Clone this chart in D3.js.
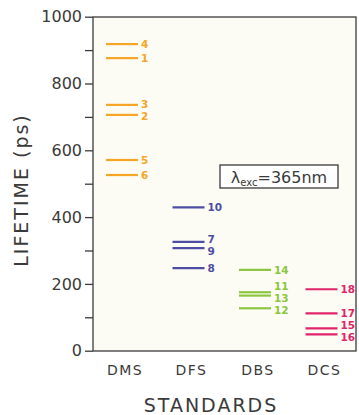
<!DOCTYPE html>
<html><head><meta charset="utf-8">
<script src="https://cdn.jsdelivr.net/npm/d3@7"></script>
<style>body{margin:0;background:#fff}svg{display:block}</style>
</head><body>
<svg id="c" width="359" height="415"></svg>
<script>
const categories = ["DMS", "DFS", "DBS", "DCS"];
const colors = ["#f6a526", "#4d4ea3", "#8cc63f", "#e0256b"];
const ids = [
  ["1","2","3","4","5","6"],
  ["7","8","9","10"],
  ["11","12","13","14"],
  ["15","16","17","18"]
];
const lifetimes = [
  [876, 706, 736, 918, 571, 526],
  [326, 247, 307, 429],
  [175, 127, 165, 242],
  [67, 49, 112, 184]
];
const yTicks = [0, 200, 400, 600, 800, 1000];
const yMinor = [100, 300, 500, 700, 900];

const svg = d3.select("#c");
const L = 93, R = 356, T = 17, B = 351;
const y = d3.scaleLinear().domain([0, 1000]).range([B - 0.3, T - 0.3]);
const x = d3.scalePoint().domain(categories).range([122, 321.5]);
const font = "DejaVu Sans, sans-serif";
const ink = "#3a3a3a";

svg.append("rect").attr("x", L).attr("y", T).attr("width", R - L).attr("height", B - T)
  .attr("fill", "#fdfcf4").attr("stroke", ink).attr("stroke-width", 1.3);

const yAxis = d3.axisLeft(y).tickValues(yTicks.concat(yMinor)).tickSize(8)
  .tickFormat(d => yTicks.includes(d) ? d : "").tickPadding(3);
const ga = svg.append("g").attr("transform", `translate(${L},0)`).call(yAxis);
ga.select(".domain").remove();
ga.selectAll("line").attr("stroke", ink).attr("stroke-width", 1.3);
ga.selectAll("text").attr("font-family", font).attr("font-size", 16).attr("fill", ink);

// category labels
svg.selectAll("text.cat").data(categories).join("text").attr("class", "cat")
  .attr("x", d => x(d) + 3).attr("y", 375).attr("text-anchor", "middle")
  .attr("font-family", font).attr("font-size", 14).attr("letter-spacing", 1.5)
  .attr("fill", ink).text(d => d);

// lines
const half = 16;
const gap = 12;
categories.forEach((c, i) => {
  const g = svg.append("g");
  const data = lifetimes[i].map((v, j) => ({v, id: ids[i][j], ly: y(lifetimes[i][j])}));
  // de-overlap labels (iterative relaxation)
  const sorted = data.slice().sort((a, b) => a.ly - b.ly);
  for (let it = 0; it < 50; it++) {
    let moved = false;
    for (let k = 1; k < sorted.length; k++) {
      const a = sorted[k - 1], b = sorted[k];
      const d = b.ly - a.ly;
      if (d < gap - 0.01) {
        const push = (gap - d) / 2;
        a.ly -= push; b.ly += push; moved = true;
      }
    }
    if (!moved) break;
  }
  g.selectAll("line").data(data).join("line")
    .attr("x1", x(c) - half).attr("x2", x(c) + half)
    .attr("y1", d => y(d.v)).attr("y2", d => y(d.v))
    .attr("stroke", colors[i]).attr("stroke-width", 2.2);
  g.selectAll("text").data(data).join("text")
    .attr("x", x(c) + half + 3).attr("y", d => d.ly).attr("dy", "0.36em")
    .attr("font-family", font).attr("font-size", 10.5).attr("font-weight", "bold")
    .attr("fill", colors[i]).text(d => d.id);
});

// legend box
const lg = svg.append("g");
lg.append("rect").attr("x", 220).attr("y", 165).attr("width", 118).attr("height", 23)
  .attr("fill", "#fff").attr("stroke", ink).attr("stroke-width", 1.3);
const lt = lg.append("text").attr("x", 279).attr("y", 183).attr("text-anchor", "middle")
  .attr("font-family", font).attr("font-size", 16).attr("fill", ink);
lt.append("tspan").text("λ");
lt.append("tspan").attr("font-size", 10).attr("dy", 3).text("exc");
lt.append("tspan").attr("dy", -3).text("=365nm");

// axis titles
svg.append("text").attr("transform", "translate(28,190) rotate(-90)")
  .attr("text-anchor", "middle").attr("font-family", font).attr("font-size", 19)
  .attr("letter-spacing", 2).attr("fill", ink).text("LIFETIME (ps)");
svg.append("text").attr("x", 211).attr("y", 412).attr("text-anchor", "middle")
  .attr("font-family", font).attr("font-size", 19).attr("letter-spacing", 2)
  .attr("fill", ink).text("STANDARDS");
</script>
</body></html>
